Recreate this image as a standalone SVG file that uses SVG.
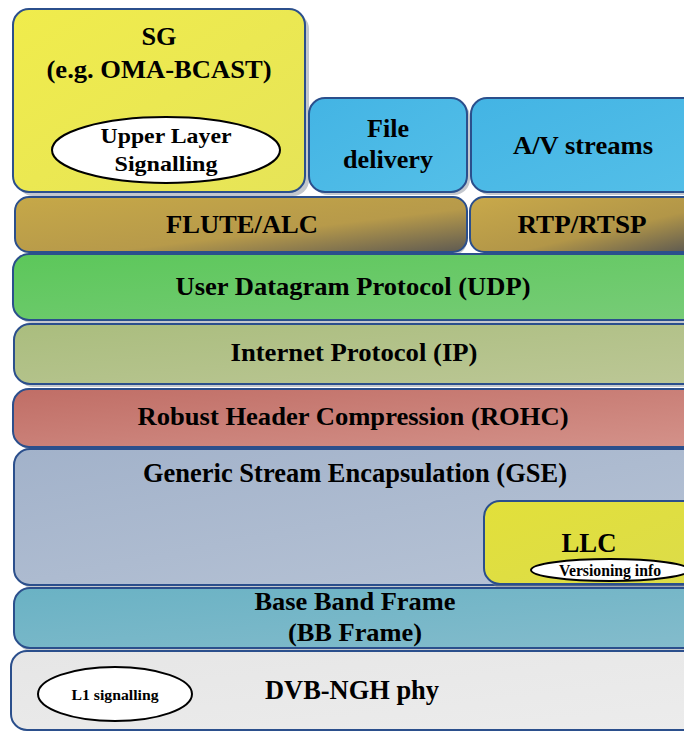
<svg xmlns="http://www.w3.org/2000/svg" width="684" height="733" viewBox="0 0 684 733">
<style>
.box{stroke:#2b4f8c;stroke-width:2}
.t{font-weight:bold;fill:#000;text-anchor:middle}
.ell{fill:#fff;stroke:#000;stroke-width:2}
.sh{fill:#7a8290;opacity:0.45}
</style>
<defs>
<linearGradient id="gY" x1="0" y1="0" x2="1" y2="1"><stop offset="0" stop-color="#f0ec4c"/><stop offset="1" stop-color="#e6e458"/></linearGradient>
<linearGradient id="gB" x1="0" y1="0" x2="1" y2="1"><stop offset="0" stop-color="#43b4e4"/><stop offset="1" stop-color="#54bfe8"/></linearGradient>
<linearGradient id="gF" x1="0" y1="0" x2="1" y2="1"><stop offset="0" stop-color="#c6a848"/><stop offset="0.6" stop-color="#b79a4a"/><stop offset="1" stop-color="#5e5a52"/></linearGradient>
<linearGradient id="gR" x1="0" y1="0" x2="1" y2="1"><stop offset="0" stop-color="#c9a94a"/><stop offset="0.6" stop-color="#b29648"/><stop offset="1" stop-color="#585652"/></linearGradient>
<linearGradient id="gG" x1="0" y1="0" x2="1" y2="1"><stop offset="0" stop-color="#5cc75a"/><stop offset="1" stop-color="#78cc78"/></linearGradient>
<linearGradient id="gI" x1="0" y1="0" x2="1" y2="1"><stop offset="0" stop-color="#aabd7e"/><stop offset="1" stop-color="#bcc796"/></linearGradient>
<linearGradient id="gO" x1="0" y1="0" x2="1" y2="1"><stop offset="0" stop-color="#c06e66"/><stop offset="1" stop-color="#d4928a"/></linearGradient>
<linearGradient id="gS" x1="0" y1="0" x2="1" y2="1"><stop offset="0" stop-color="#a2b2ca"/><stop offset="1" stop-color="#b8c4d6"/></linearGradient>
<linearGradient id="gL" x1="0" y1="0" x2="1" y2="1"><stop offset="0" stop-color="#e2e03a"/><stop offset="1" stop-color="#dcdc4a"/></linearGradient>
<linearGradient id="gT" x1="0" y1="0" x2="1" y2="1"><stop offset="0" stop-color="#6ab2c4"/><stop offset="1" stop-color="#84bccc"/></linearGradient>
<linearGradient id="gD" x1="0" y1="0" x2="1" y2="1"><stop offset="0" stop-color="#e6e6e6"/><stop offset="1" stop-color="#ececec"/></linearGradient>
</defs>

<g font-family="'Liberation Serif', 'Times New Roman', Times, 'DejaVu Serif', serif">
<g id="sg">
<rect class="sh" x="17" y="13" width="292" height="183" rx="16"/>
<rect class="box" x="13" y="9" width="292" height="183" rx="16" fill="url(#gY)"/>
<text class="t" x="159" y="45" font-size="26" textLength="35" lengthAdjust="spacingAndGlyphs">SG</text>
<text class="t" x="159" y="78" font-size="26" textLength="225" lengthAdjust="spacingAndGlyphs">(e.g. OMA-BCAST)</text>
<ellipse class="ell" cx="166" cy="150" rx="114" ry="33"/>
<text class="t" x="166" y="143" font-size="22" textLength="131" lengthAdjust="spacingAndGlyphs">Upper Layer</text>
<text class="t" x="166" y="171" font-size="22" textLength="103" lengthAdjust="spacingAndGlyphs">Signalling</text>
</g>

<g id="file">
<rect class="sh" x="312" y="101" width="158" height="94" rx="16"/>
<rect class="box" x="309" y="98" width="158" height="94" rx="16" fill="url(#gB)"/>
<text class="t" x="388" y="137" font-size="25" textLength="42" lengthAdjust="spacingAndGlyphs">File</text>
<text class="t" x="388" y="168" font-size="25" textLength="90" lengthAdjust="spacingAndGlyphs">delivery</text>
</g>

<g id="av">
<rect class="sh" x="474" y="101" width="230" height="94" rx="16"/>
<rect class="box" x="471" y="98" width="230" height="94" rx="16" fill="url(#gB)"/>
<text class="t" x="583" y="154" font-size="25" textLength="140" lengthAdjust="spacingAndGlyphs">A/V streams</text>
</g>

<g id="flute">
<rect class="sh" x="18" y="200" width="449" height="55" rx="14"/>
<rect class="box" x="15" y="197" width="452" height="55" rx="14" fill="url(#gF)"/>
<text class="t" x="242" y="233" font-size="25" textLength="152" lengthAdjust="spacingAndGlyphs">FLUTE/ALC</text>
</g>

<g id="rtp">
<rect class="box" x="470" y="197" width="230" height="55" rx="14" fill="url(#gR)"/>
<text class="t" x="582" y="233" font-size="25" textLength="129" lengthAdjust="spacingAndGlyphs">RTP/RTSP</text>
</g>

<g id="udp">
<rect class="sh" x="16" y="257" width="700" height="66" rx="16"/>
<rect class="box" x="13" y="254" width="700" height="66" rx="16" fill="url(#gG)"/>
<text class="t" x="353" y="295" font-size="25" textLength="355" lengthAdjust="spacingAndGlyphs">User Datagram Protocol (UDP)</text>
</g>

<g id="ip">
<rect class="sh" x="17" y="327" width="700" height="60" rx="16"/>
<rect class="box" x="14" y="324" width="700" height="60" rx="16" fill="url(#gI)"/>
<text class="t" x="354" y="361" font-size="25" textLength="247" lengthAdjust="spacingAndGlyphs">Internet Protocol (IP)</text>
</g>

<g id="rohc">
<rect class="sh" x="16" y="392" width="700" height="58" rx="16"/>
<rect class="box" x="13" y="389" width="700" height="58" rx="16" fill="url(#gO)"/>
<text class="t" x="353" y="425" font-size="25" textLength="431" lengthAdjust="spacingAndGlyphs">Robust Header Compression (ROHC)</text>
</g>

<g id="gse">
<rect class="sh" x="17" y="452" width="700" height="136" rx="16"/>
<rect class="box" x="14" y="449" width="700" height="136" rx="16" fill="url(#gS)"/>
<text class="t" x="355" y="482" font-size="27" textLength="424" lengthAdjust="spacingAndGlyphs">Generic Stream Encapsulation (GSE)</text>
</g>

<g id="llc">
<rect class="sh" x="488" y="505" width="220" height="84" rx="16"/>
<rect class="box" x="484" y="501" width="220" height="83" rx="16" fill="url(#gL)"/>
<text class="t" x="589" y="552" font-size="27" textLength="55" lengthAdjust="spacingAndGlyphs">LLC</text>
<ellipse class="ell" cx="610" cy="570" rx="79" ry="11"/>
<text class="t" x="610" y="576" font-size="16" textLength="102" lengthAdjust="spacingAndGlyphs">Versioning info</text>
</g>

<g id="bb">
<rect class="sh" x="17" y="591" width="700" height="61" rx="16"/>
<rect class="box" x="14" y="588" width="700" height="60" rx="16" fill="url(#gT)"/>
<text class="t" x="355" y="610" font-size="26" textLength="201" lengthAdjust="spacingAndGlyphs">Base Band Frame</text>
<text class="t" x="355" y="641" font-size="26" textLength="134" lengthAdjust="spacingAndGlyphs">(BB Frame)</text>
</g>

<g id="dvb">
<rect class="box" x="11" y="651" width="700" height="79" rx="16" fill="url(#gD)"/>
<text class="t" x="352" y="699" font-size="27" textLength="174" lengthAdjust="spacingAndGlyphs">DVB-NGH phy</text>
<ellipse class="ell" cx="115" cy="694" rx="77" ry="27"/>
<text class="t" x="115" y="700" font-size="15" textLength="87" lengthAdjust="spacingAndGlyphs">L1 signalling</text>
</g>
</g>

<g id="connectors"></g>
</svg>
